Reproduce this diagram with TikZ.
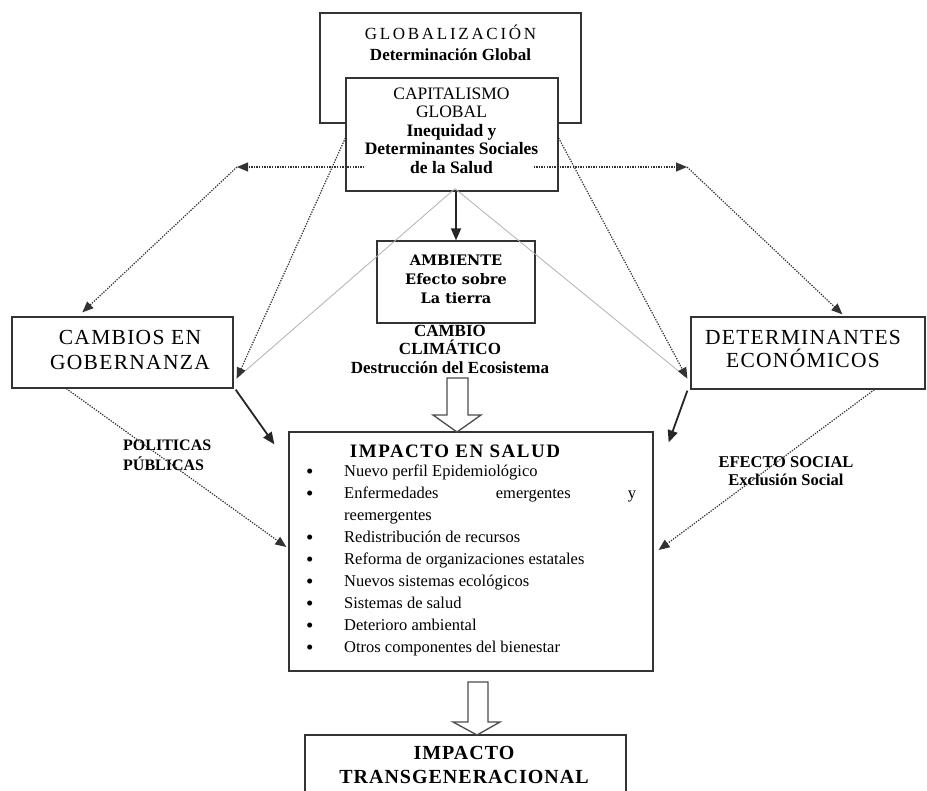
\documentclass[tikz,border=0pt]{standalone}
\usepackage{fontspec}
\setmainfont{Liberation Serif}
\newfontfamily\ambfont{DejaVu Serif}
\usetikzlibrary{arrows.meta,calc}
\newcommand\fs[2]{\fontsize{#1}{#2}\selectfont}
\newcommand\bul{\makebox[38pt][l]{\raisebox{-1.2pt}{\fs{21}{21}\textbullet}}}
\tikzset{
  box/.style={draw=black!80, line width=1.3pt, fill=white, inner sep=0pt},
  txt/.style={inner sep=0pt, align=center},
  dotarrow/.style={dash pattern=on 1.3pt off 1.3pt, line width=1.2pt, draw=black!80, -{Triangle[length=11pt,width=9pt]}},
  grayline/.style={draw=black!30, line width=0.8pt},
  solidarrow/.style={line width=1.8pt, draw=black!85, -{Triangle[length=12pt,width=10pt]}},
  hollow/.style={draw=black!70, line width=1.3pt, fill=white, line join=miter},
}
\begin{document}
\begin{tikzpicture}[x=1pt,y=-1pt]
\useasboundingbox (0,0) rectangle (927,791);
\clip (0,0) rectangle (927,791);
\fill[white] (0,0) rectangle (927,791);

% top boxes
\node[box, minimum width=261pt, minimum height=110pt] (glob) at (450.5,68) {};
\node[txt, font=\fs{17}{21}] (globt) at (450.5,42.5) {{\addfontfeatures{LetterSpace=16}GLOBALIZACIÓN}\\\textbf{Determinación Global}};
\node[box, minimum width=212pt, minimum height=113pt] (cap) at (452,134.5) {};
\node[txt, font=\fs{17.5}{18.5}] (capt) at (451.5,130.5) {CAPITALISMO\\GLOBAL\\\textbf{Inequidad y}\\\textbf{Determinantes Sociales}\\\textbf{de la Salud}};

% middle boxes
\node[box, minimum width=158pt, minimum height=82pt] (amb) at (456,282) {};
\node[txt, font=\ambfont\bfseries\fs{14.5}{19}] (ambt) at (456,279) {AMBIENTE\\Efecto sobre\\La tierra};
\node[txt, font=\bfseries\fs{17}{18.5}] (climt) at (450,349) {CAMBIO\\CLIMÁTICO\\Destrucción del Ecosistema};

\node[box, minimum width=221pt, minimum height=71pt] (camb) at (122.5,352.5) {};
\node[txt, font=\fs{21.5}{25}\addfontfeatures{LetterSpace=6}] (cambt) at (130,349.5) {CAMBIOS EN\\GOBERNANZA};
\node[box, minimum width=234pt, minimum height=72pt] (det) at (808,353) {};
\node[txt, font=\fs{21.5}{23}\addfontfeatures{LetterSpace=6}] (dett) at (803,348.5) {DETERMINANTES\\ECONÓMICOS};

% impact box
\node[box, minimum width=364pt, minimum height=239pt] (imp) at (471,551.5) {};
\node[txt, font=\bfseries\fs{19}{22}\addfontfeatures{LetterSpace=8}] (impt) at (455,451) {IMPACTO EN SALUD};
\node[txt, align=left, anchor=north west, font=\fs{16.5}{22}] (list) at (306,465) {%
\bul Nuevo perfil Epidemiológico\\
\bul \hbox to 292pt{Enfermedades\hfill emergentes\hfill y}\\
\hspace*{38pt}reemergentes\\
\bul Redistribución de recursos\\
\bul Reforma de organizaciones estatales\\
\bul Nuevos sistemas ecológicos\\
\bul Sistemas de salud\\
\bul Deterioro ambiental\\
\bul Otros componentes del bienestar};

\node[box, minimum width=321pt, minimum height=80pt] (trans) at (465.5,775) {};
\node[txt, font=\bfseries\fs{20}{24}\addfontfeatures{LetterSpace=5}] (transt) at (464,765) {IMPACTO\\TRANSGENERACIONAL};

% side labels
\node[txt, align=left, anchor=west, font=\bfseries\fs{16}{20}] (pol) at (123,455) {POLITICAS\\PÚBLICAS};
\node[txt, font=\bfseries\fs{16.5}{18}] (efe) at (786,471) {EFECTO SOCIAL\\Exclusión Social};

% connectors
\coordinate (jl) at (237,167);
\coordinate (jr) at (687,167);
\draw[grayline] ($(cap.south)+(3,-3)$) -- ($(camb.south east)+(5,-12)$);
\draw[grayline] ($(cap.south)+(3,-3)$) -- ($(det.south west)+(-5,-13)$);
\draw[dotarrow] ($(cap.west)+(19,32.5)$) -- (jl);
\draw[dotarrow] (jl) -- ($(camb.north west)+(71,-4)$);
\draw[dotarrow] ($(cap.east)+(-25,32.5)$) -- (jr);
\draw[dotarrow] (jr) -- ($(det.north west)+(152,-2)$);
\draw[dotarrow] ($(cap.west)+(0,3.5)$) -- ($(camb.south east)+(3,-10)$);
\draw[dotarrow] ($(cap.east)+(0,3.5)$) -- ($(det.south west)+(-3,-11)$);
\draw[solidarrow] (cap.south -| amb.north) -- (amb.north);
\draw[solidarrow] ($(camb.south east)+(2,1)$) -- ($(imp.north west)+(-14,13)$);
\draw[solidarrow] ($(det.south west)+(-3,1)$) -- ($(imp.north east)+(15,11)$);
\draw[dotarrow] ($(camb.south west)+(55,0)$) -- ($(imp.west)+(-2,-4.5)$);
\draw[dotarrow] ($(det.south west)+(184,0)$) -- ($(imp.east)+(5,-1.5)$);

% hollow arrows
\draw[hollow] (447,378) -- (447,415) -- (433,415) -- (457,432) -- (481,415) -- (468,415) -- (468,378) -- cycle;
\draw[hollow] (468,682) -- (468,722) -- (453,722) -- (477,735) -- (500,722) -- (488,722) -- (488,682) -- cycle;
\end{tikzpicture}
\end{document}
